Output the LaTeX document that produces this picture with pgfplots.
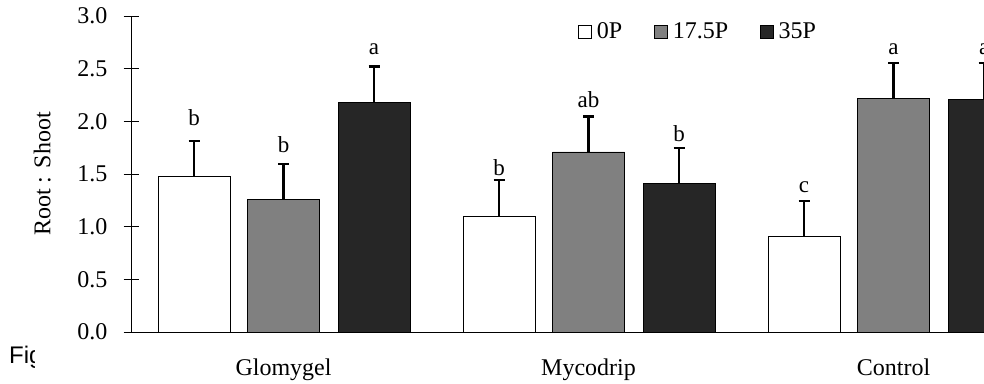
\documentclass[border=0pt]{standalone}
\usepackage{pgfplots}
\pgfplotsset{compat=1.18}
\usepackage{fontspec}
\setmainfont{Liberation Serif}
\newfontfamily\sansf{Liberation Sans}
\definecolor{midgray}{HTML}{808080}
\definecolor{darkbar}{HTML}{262626}
\begin{document}
\begin{tikzpicture}[x=1pt,y=1pt]
\useasboundingbox (0,0) rectangle (984,383);
\begin{scope}
\clip (0,0) rectangle (34,383);
\node[anchor=base west, inner sep=0pt, font=\sansf\fontsize{24}{28}\selectfont] at (9,20) {Fig};
\end{scope}
\begin{axis}[
  at={(131pt,51pt)}, anchor=south west,
  scale only axis, width=853pt, height=316pt,
  xmin=0, xmax=2.7967, ymin=0, ymax=3,
  clip=false,
  axis x line*=bottom, axis y line*=left,
  axis line style={line width=0.8pt},
  tick align=center, major tick length=15pt,
  tick style={line width=0.8pt, black},
  ytick={0,0.5,1,1.5,2,2.5,3},
  yticklabels={0.0,0.5,1.0,1.5,2.0,2.5,3.0},
  yticklabel style={font=\fontsize{24}{28}\selectfont, anchor=east, inner sep=0pt, xshift=-16pt},
  xtick={0.5,1.5,2.5},
  xticklabels={Glomygel,Mycodrip,Control},
  x tick style={draw=none},
  extra x ticks={0,1,2},
  extra x tick labels={},
  extra x tick style={tick style={line width=0.8pt, black, draw=black}, major tick length=16pt},
  xticklabel style={font=\fontsize{24}{28}\selectfont, anchor=base, inner sep=0pt, yshift=-36pt},
  ylabel={Root : Shoot},
  ylabel style={font=\fontsize{24}{28}\selectfont, at={(axis description cs:-0.104,0.5)}, anchor=center, rotate=0},
  legend style={at={(axis description cs:0.5235,0.951)}, anchor=west, draw=none, fill=none,
    legend columns=3, font=\fontsize{24}{28}\selectfont,
    /tikz/every even column/.append style={column sep=30pt},
    nodes={inner sep=1.5pt}, inner sep=0pt, cells={anchor=west}},
]
\addplot[ybar, bar width=0.236, bar shift=0pt, fill=white, draw=black, line width=0.6pt,
  legend image code/.code={\draw[fill=white,draw=black,line width=0.6pt] (0pt,-6.5pt) rectangle (13pt,6.5pt); \path (17pt,0pt);},
  error bars/.cd, y dir=plus, y explicit,
  error bar style={line width=2.2pt, black},
  error mark options={rotate=90, mark size=5.5pt, line width=2.2pt, black}]
  coordinates {(0.2066,1.48) +- (0,0.33) (1.2066,1.10) +- (0,0.343) (2.2066,0.905) +- (0,0.339)};
\addlegendentry{0P}
\addplot[ybar, bar width=0.236, bar shift=0pt, fill=midgray, draw=black, line width=0.6pt,
  legend image code/.code={\draw[fill=midgray,draw=black,line width=0.6pt] (0pt,-6.5pt) rectangle (13pt,6.5pt); \path (17pt,0pt);},
  error bars/.cd, y dir=plus, y explicit,
  error bar style={line width=2.2pt, black},
  error mark options={rotate=90, mark size=5.5pt, line width=2.2pt, black}]
  coordinates {(0.5,1.26) +- (0,0.335) (1.5,1.71) +- (0,0.335) (2.5,2.22) +- (0,0.337)};
\addlegendentry{17.5P}
\addplot[ybar, bar width=0.236, bar shift=0pt, fill=darkbar, draw=black, line width=0.6pt,
  legend image code/.code={\draw[fill=darkbar,draw=black,line width=0.6pt] (0pt,-6.5pt) rectangle (13pt,6.5pt); \path (17pt,0pt);},
  error bars/.cd, y dir=plus, y explicit,
  error bar style={line width=2.2pt, black},
  error mark options={rotate=90, mark size=5.5pt, line width=2.2pt, black}]
  coordinates {(0.797,2.18) +- (0,0.34) (1.797,1.41) +- (0,0.334) (2.797,2.212) +- (0,0.341)};
\addlegendentry{35P}
\addplot[only marks, mark=none, forget plot, nodes near coords, point meta=explicit symbolic,
  nodes near coords style={anchor=base, inner sep=0pt, font=\fontsize{23}{27}\selectfont}]
  coordinates {
  (0.2066,1.965) [b] (0.5,1.70) [b] (0.797,2.63) [a]
  (1.2066,1.49) [b] (1.5,2.136) [ab] (1.797,1.807) [b]
  (2.2066,1.32) [c] (2.5,2.63) [a] (2.797,2.63) [a]};
\end{axis}
\end{tikzpicture}
\end{document}
